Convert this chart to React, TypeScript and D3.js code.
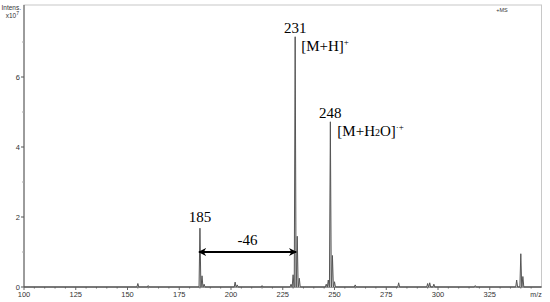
import React from "react";
import * as d3 from "d3";

// peaks: m/z and intensity (x10^7)
const peakMz = [155, 160, 185, 186, 187, 202, 203, 215, 229, 230, 231, 232, 233, 246, 247, 248, 249, 250, 260, 281, 295, 296, 298, 318, 338, 340, 341];
const peakInt = [0.1, 0.04, 1.68, 0.32, 0.08, 0.14, 0.06, 0.04, 0.08, 0.35, 7.15, 1.45, 0.25, 0.08, 0.2, 4.72, 0.9, 0.15, 0.06, 0.12, 0.1, 0.12, 0.08, 0.04, 0.2, 0.95, 0.3];

const xTicks = [100, 125, 150, 175, 200, 225, 250, 275, 300, 325];
const yTicks = [0, 2, 4, 6];
const yMinor = [1, 3, 5, 7];

const W = 550;
const H = 302;

const App = () => {
  const svgRef = React.useRef<SVGSVGElement>(null);

  React.useEffect(() => {
    const x = d3.scaleLinear().domain([100, 350]).range([24, 541.5]);
    const y = d3.scaleLinear().domain([0, 8]).range([287, 7]);

    const svg = d3.select(svgRef.current);
    svg.selectAll("*").remove();

    // frame
    svg
      .append("rect")
      .attr("x", x(100))
      .attr("y", 5)
      .attr("width", x(350) - x(100))
      .attr("height", y(0) - 5)
      .attr("fill", "none")
      .attr("stroke", "#c8c8c8")
      .attr("stroke-width", 1);

    // left axis
    svg
      .append("line")
      .attr("x1", x(100))
      .attr("x2", x(100))
      .attr("y1", 5)
      .attr("y2", y(0))
      .attr("stroke", "#555");
    svg
      .selectAll(".ytick")
      .data(yTicks)
      .enter()
      .append("line")
      .attr("x1", x(100) - 3)
      .attr("x2", x(100))
      .attr("y1", (d) => y(d))
      .attr("y2", (d) => y(d))
      .attr("stroke", "#555");
    svg
      .selectAll(".yminor")
      .data(yMinor)
      .enter()
      .append("line")
      .attr("x1", x(100) - 2)
      .attr("x2", x(100))
      .attr("y1", (d) => y(d))
      .attr("y2", (d) => y(d))
      .attr("stroke", "#aaa");
    svg
      .selectAll(".ylab")
      .data(yTicks)
      .enter()
      .append("text")
      .attr("x", x(100) - 4)
      .attr("y", (d) => y(d) + 2.5)
      .attr("text-anchor", "end")
      .attr("font-family", "Liberation Sans, Arial, sans-serif")
      .attr("font-size", 7.5)
      .attr("fill", "#333")
      .text((d) => d);

    // bottom axis
    svg
      .append("line")
      .attr("x1", x(100))
      .attr("x2", x(350))
      .attr("y1", y(0))
      .attr("y2", y(0))
      .attr("stroke", "#555");
    svg
      .selectAll(".xminor")
      .data(d3.range(100, 350, 5))
      .enter()
      .append("line")
      .attr("x1", (d) => x(d))
      .attr("x2", (d) => x(d))
      .attr("y1", y(0))
      .attr("y2", (d) => y(0) + (d % 25 === 0 ? 3 : 1.5))
      .attr("stroke", "#666");
    svg
      .selectAll(".xlab")
      .data(xTicks)
      .enter()
      .append("text")
      .attr("x", (d) => x(d))
      .attr("y", 297)
      .attr("text-anchor", "middle")
      .attr("font-family", "Liberation Sans, Arial, sans-serif")
      .attr("font-size", 7.5)
      .attr("fill", "#333")
      .text((d) => d);
    svg
      .append("text")
      .attr("x", 536)
      .attr("y", 297)
      .attr("text-anchor", "middle")
      .attr("font-family", "Liberation Sans, Arial, sans-serif")
      .attr("font-size", 7)
      .attr("fill", "#333")
      .text("m/z");

    // corner labels
    svg
      .append("text")
      .attr("x", 21)
      .attr("y", 10)
      .attr("text-anchor", "end")
      .attr("font-family", "Liberation Sans, Arial, sans-serif")
      .attr("font-size", 6.5)
      .attr("fill", "#333")
      .text("Intens.");
    const xl = svg
      .append("text")
      .attr("x", 19)
      .attr("y", 18)
      .attr("text-anchor", "end")
      .attr("font-family", "Liberation Sans, Arial, sans-serif")
      .attr("font-size", 6.5)
      .attr("fill", "#333");
    xl.append("tspan").text("x10");
    xl.append("tspan").attr("dy", -3).attr("font-size", 5).text("7");
    svg
      .append("text")
      .attr("x", 502)
      .attr("y", 12)
      .attr("text-anchor", "middle")
      .attr("font-family", "Liberation Sans, Arial, sans-serif")
      .attr("font-size", 5.5)
      .attr("fill", "#333")
      .text("+MS");

    // spectrum trace
    const pts: [number, number][] = [[100, 0]];
    peakMz.forEach((m, i) => {
      pts.push([m - 0.45, 0], [m, peakInt[i]], [m + 0.45, 0]);
    });
    pts.push([350, 0]);
    const line = d3
      .line<[number, number]>()
      .x((d) => x(d[0]))
      .y((d) => y(d[1]));
    svg
      .append("path")
      .datum(pts)
      .attr("d", line)
      .attr("fill", "#ddd")
      .attr("stroke", "#555")
      .attr("stroke-width", 1);

    // annotations
    const serif = "Liberation Serif, 'Times New Roman', serif";
    const ann = (t: string, xx: number, yy: number, anchor: string) =>
      svg
        .append("text")
        .attr("x", xx)
        .attr("y", yy)
        .attr("text-anchor", anchor)
        .attr("font-family", serif)
        .attr("font-size", 15)
        .attr("fill", "#000")
        .text(t);

    const hOf = (m: number) => peakInt[peakMz.indexOf(m)];
    ann("185", x(185), y(hOf(185)) - 6, "middle");
    ann("231", x(231), y(hOf(231)) - 4, "middle");
    ann("248", x(248), y(hOf(248)) - 4, "middle");

    const mh = ann("[M+H]", x(231) + 6, y(hOf(231)) + 14, "start");
    mh.append("tspan").attr("dy", -6).attr("font-size", 9).text("+");

    const mho = svg
      .append("text")
      .attr("x", x(248) + 7)
      .attr("y", y(hOf(248)) + 14)
      .attr("font-family", serif)
      .attr("font-size", 15)
      .attr("fill", "#000");
    mho.append("tspan").text("[M+H");
    mho.append("tspan").attr("font-size", 10).text("2");
    mho.append("tspan").text("O]");
    mho.append("tspan").attr("dy", -6).attr("font-size", 9).text("·+");

    // double arrow 185 -> 231
    const defs = svg.append("defs");
    ["s", "e"].forEach((k) => {
      defs
        .append("marker")
        .attr("id", "arr-" + k)
        .attr("viewBox", "0 0 10 10")
        .attr("refX", 9)
        .attr("refY", 5)
        .attr("markerWidth", 4)
        .attr("markerHeight", 4)
        .attr("orient", k === "e" ? "auto" : "auto-start-reverse")
        .append("path")
        .attr("d", "M0,0 L10,5 L0,10 L3,5 Z")
        .attr("fill", "#000");
    });
    const ay = y(1.0);
    svg
      .append("line")
      .attr("x1", x(185) - 1)
      .attr("x2", x(231) + 1)
      .attr("y1", ay)
      .attr("y2", ay)
      .attr("stroke", "#000")
      .attr("stroke-width", 2)
      .attr("marker-start", "url(#arr-s)")
      .attr("marker-end", "url(#arr-e)");
    ann("-46", (x(185) + x(231)) / 2, ay - 7, "middle");
  }, []);

  return (
    <svg
      ref={svgRef}
      width={W}
      height={H}
      style={{ position: "absolute", left: 0, top: 0, background: "#fff" }}
    />
  );
};

export default App;
